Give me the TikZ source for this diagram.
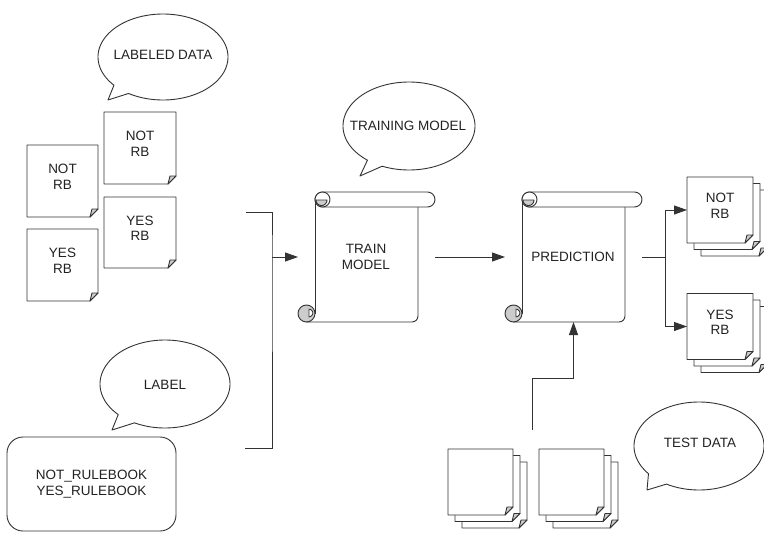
\documentclass[tikz,border=0pt]{standalone}
\usepackage{fontspec}
\setmainfont{Liberation Sans}
\usetikzlibrary{arrows.meta,calc}
\definecolor{lc}{HTML}{333333}
\definecolor{tc}{HTML}{222222}
\definecolor{fg}{HTML}{CCCCCC}
\tikzset{
  wire/.style={draw=lc, line width=0.9pt},
  arr/.style={wire, -{Triangle[length=13pt,width=9pt]}},
  txt/.style={font=\fontsize{13.5}{15.5}\selectfont, text=tc, align=center, inner sep=0pt},
  bub/.style={wire, fill=white, line join=round},
}
% speech bubble: cx, cy, rx, ry, a1, a2+360, tipx, tipy
\newcommand\bubble[8]{%
  \draw[bub] (#7,#8) -- plot[domain=#5:#6,samples=120] ({#1+#3*cos(\x)},{#2+#4*sin(\x)}) -- cycle;
}
% paper: name, cx, cy, w, h
\newcommand\paper[5]{%
  \node[inner sep=0pt, outer sep=0pt, minimum width=#4pt, minimum height=#5pt] (#1) at (#2,#3) {};
  \draw[wire, fill=white, line join=round] (#1.north west) -- (#1.north east) -- ([yshift=8pt]#1.south east) -- ([xshift=-8pt]#1.south east) -- (#1.south west) -- cycle;
  \filldraw[wire, fill=fg, line join=round] ([xshift=-8pt]#1.south east) -- ([xshift=-6pt,yshift=8pt]#1.south east) -- ([yshift=8pt]#1.south east) -- cycle;
}
% stack of three papers: name, cx, cy, w, h
\newcommand\paperstack[5]{%
  \paper{#1b}{#2+14}{#3+13}{#4}{#5}
  \paper{#1a}{#2+7}{#3+6.5}{#4}{#5}
  \paper{#1}{#2}{#3}{#4}{#5}
}
% scroll: name, body-left x, text
\newcommand\scrollshape[3]{%
  \node[inner sep=0pt, outer sep=0pt, minimum width=137pt, minimum height=130pt] (#1) at ({#2+51.5},257) {};
  \draw[wire] (#2,199.5) -- (#2,313.5);
  \draw[wire, rounded corners=6pt] ({#2-9},322) -- ({#2+103},322) -- ({#2+103},207);
  \draw[wire, fill=white, rounded corners=7.5pt] (#2,192) rectangle ({#2+120},207);
  \draw[wire, fill=white] ({#2+7.5},199.5) circle[radius=7.5pt];
  \filldraw[wire, fill=fg] plot[domain=0:180,samples=25] ({#2+6.5+5.5*cos(\x)},{200+5.5*sin(\x)}) -- cycle;
  \filldraw[wire, fill=fg] ({#2-8.5},313.5) circle[radius=8.5pt];
  \filldraw[wire, fill=white] plot[domain=-90:90,samples=25] ({#2-6+3.8*cos(\x)},{313+3.8*sin(\x)}) -- cycle;
  \node[txt] (#1t) at ({#2+51},257) {#3};
}
\begin{document}
\begin{tikzpicture}[x=1pt,y=-1pt]
\fill[white] (0,0) rectangle (764,533);
\useasboundingbox (0,0) rectangle (764,533);

% bubbles
\bubble{163}{57}{65}{43}{139}{482}{108}{100}
\node[txt] (bLD) at (163,55) {LABELED DATA};
\bubble{409}{126}{66}{44}{129}{474}{360}{176}
\node[txt] (bTM) at (408,126) {TRAINING MODEL};
\bubble{165}{384}{65}{44}{136}{478}{112}{430}
\node[txt] (bLB) at (165,385) {LABEL};
\bubble{699}{446}{65}{44}{141}{480}{647}{490}
\node[txt] (bTD) at (700,443) {TEST DATA};

% labeled data notes
\paper{n1}{140}{148}{72}{72}
\node[txt] (n1t) at ([yshift=4pt]n1.center) {NOT\\RB};
\paper{n2}{62.5}{181}{71}{72}
\node[txt] (n2t) at ([yshift=4pt]n2.center) {NOT\\RB};
\paper{n3}{140}{232.5}{72}{71}
\node[txt] (n3t) at ([yshift=4pt]n3.center) {YES\\RB};
\paper{n4}{62.5}{265}{71}{72}
\node[txt] (n4t) at ([yshift=4pt]n4.center) {YES\\RB};

% labels box
\node[draw=lc, line width=0.9pt, rounded corners=16pt, minimum width=169pt, minimum height=94pt, txt] (rules) at (91.5,484) {NOT\_RULEBOOK\\YES\_RULEBOOK};

% scrolls
\scrollshape{train}{315}{TRAIN\\MODEL}
\scrollshape{pred}{522}{PREDICTION}

% output stacks
\paperstack{outn}{720}{210}{66}{66}
\node[txt] (outnt) at ([yshift=4pt]outn.center) {NOT\\RB};
\paperstack{outy}{720}{326.5}{66}{66}
\node[txt] (outyt) at ([yshift=4pt]outy.center) {YES\\RB};

% test data stacks
\paperstack{td1}{480.5}{482}{65}{66}
\paperstack{td2}{571.5}{482}{65}{66}

% connectors
\coordinate (bt) at (246,212);
\coordinate (bb) at (245,448);
\coordinate (bj) at (272,257);
\draw[wire] (bt) -| (bj) |- (bb);
\draw[arr] (bj) -- (train.west);
\draw[arr] (train.east) -- (pred.west);
\coordinate (oj) at (665,257);
\draw[wire] (pred.east) -- (oj);
\draw[arr] (oj) |- (outn.west);
\draw[arr] (oj) |- (outy.west);
\coordinate (tj) at (532,430);
\draw[arr] (tj) -- ++(0,-52) -| (pred.south);
\end{tikzpicture}
\end{document}
